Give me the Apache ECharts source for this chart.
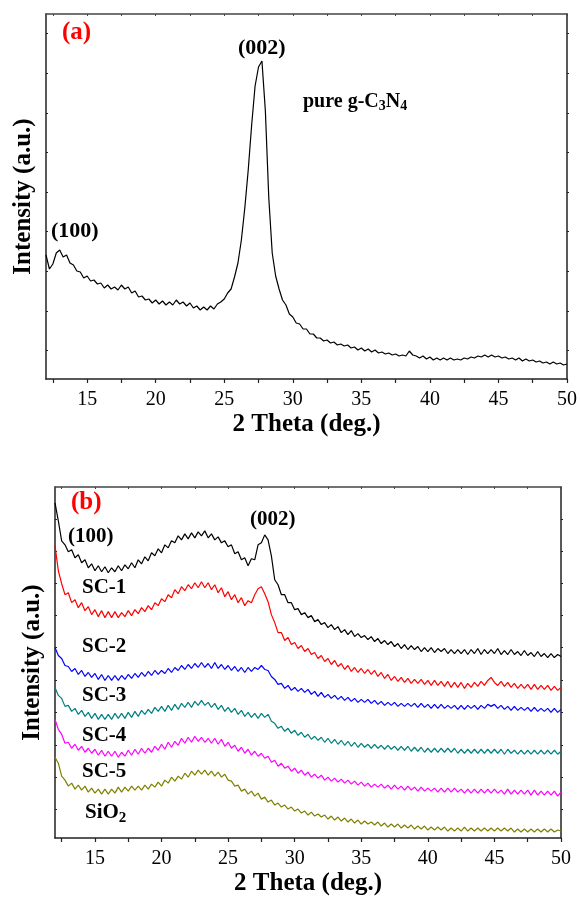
<!DOCTYPE html>
<html>
<head>
<meta charset="utf-8">
<script src="https://cdn.jsdelivr.net/npm/echarts@6/dist/echarts.min.js"></script>
<style>
html,body{margin:0;padding:0;background:#fff;}
#chart{width:580px;height:897px;}
</style>
</head>
<body>
<div id="chart"></div>
<script>
// 2 Theta sampling grid (deg.): 12.00 to 50.00 in 0.25 steps
const thetaStart = 12, thetaStep = 0.25, thetaCount = 153;

// x-axis tick labels / tick positions
const xTickLabels = [15, 20, 25, 30, 35, 40, 45, 50];
const xTicks = [12.5, 15, 17.5, 20, 22.5, 25, 27.5, 30, 32.5, 35, 37.5, 40, 42.5, 45, 47.5, 50];
const yTicksA = [29, 68, 108, 148, 187, 227, 266, 306, 346];
const yTicksB = [29, 61, 93, 126, 158, 191, 223, 255, 288, 320];

// (a) pure g-C3N4 (a.u.)
const pureCN = [124,110,115,126,129,122,124,116,114,108,107,101,103,98,99,95,96,91,94,90,92,89,94,90,92,86,88,82,83,79,80,76,79,75,78,74,77,74,79,75,77,73,76,71,73,69,72,69,73,70,75,77,80,86,90,102,116,139,171,209,254,293,312,318,268,181,126,103,90,79,74,65,62,56,55,50,50,45,45,41,41,38,39,36,37,34,35,33,34,31,32,29,31,28,30,27,29,26,27,25,26,24,25,23,24,23,28,24,23,21,23,20,22,19,21,19,21,19,21,19,20,19,21,20,22,21,23,22,24,22,24,22,23,21,22,20,21,19,21,18,20,18,19,17,18,16,17,15,17,15,16,14,15];

// (b) samples (a.u., stacked as plotted)
const gCN = [336,318,298,294,287,289,281,284,276,279,271,275,268,273,267,272,266,271,267,273,268,274,270,276,271,279,275,282,278,286,283,290,286,294,291,298,296,303,299,305,300,306,301,307,303,308,301,305,299,302,296,298,292,294,285,287,279,281,273,280,279,294,296,304,299,283,259,254,244,244,236,236,229,230,224,226,221,223,217,219,214,216,211,214,209,212,206,209,204,208,202,205,201,203,199,202,197,200,195,198,194,197,192,195,190,194,189,193,189,192,187,191,187,191,186,190,187,190,185,189,185,189,185,189,184,189,185,190,184,189,185,189,185,190,184,188,184,189,184,187,183,188,183,186,182,187,182,185,181,185,181,184,182];
const sc1 = [293,268,255,244,246,236,239,231,236,228,232,224,229,222,228,221,227,221,227,221,226,222,228,223,229,225,231,227,233,229,236,233,240,237,244,241,249,245,252,248,254,250,256,251,257,251,256,249,254,246,251,242,247,239,244,236,241,233,238,236,244,250,252,245,237,224,216,206,206,198,201,194,196,190,193,187,190,184,186,180,183,177,180,174,178,172,175,169,173,167,171,166,170,165,169,164,168,162,166,160,164,158,162,157,161,156,160,155,159,155,159,154,158,153,158,153,157,152,157,151,156,151,156,150,155,151,156,152,157,153,158,161,156,153,157,152,156,151,155,150,154,150,154,149,154,149,153,149,153,148,152,148,151];
const sc2 = [191,183,180,173,172,167,170,164,168,162,166,161,165,159,164,158,163,158,163,158,163,159,164,160,165,161,166,162,167,163,168,164,168,165,170,166,171,168,173,169,174,170,175,171,176,171,175,170,176,170,174,169,173,168,172,167,171,166,171,167,171,169,173,169,168,162,159,154,155,150,153,148,151,147,150,146,149,144,147,142,146,141,144,140,143,139,142,138,141,137,140,136,139,136,139,135,138,134,137,133,136,133,136,132,135,132,135,132,135,131,135,131,134,130,134,130,134,130,133,130,133,129,133,129,133,130,133,129,133,130,134,132,134,130,133,129,132,128,132,128,131,128,131,127,131,127,130,127,130,126,130,126,129];
const sc3 = [151,143,140,132,133,127,130,124,128,122,126,120,125,119,124,119,124,119,125,120,125,120,126,121,127,122,128,124,129,125,131,127,132,127,133,128,134,129,135,131,136,131,137,133,138,133,136,131,135,129,133,127,131,126,130,124,128,122,126,121,125,120,125,121,124,117,115,110,112,107,110,105,108,103,106,101,104,99,102,98,101,96,100,95,99,94,98,93,97,92,96,91,95,91,94,90,94,90,93,89,93,89,92,88,92,88,92,87,91,87,91,86,90,86,90,86,90,86,90,86,90,85,89,85,89,85,89,85,89,85,89,85,89,85,89,84,89,85,88,84,88,84,88,84,88,84,88,84,88,84,88,84,87];
const sc4 = [119,109,104,95,96,90,94,88,92,86,90,85,89,83,88,82,87,82,87,81,86,82,88,83,89,84,90,85,90,86,92,88,94,89,96,91,97,93,100,95,101,96,102,97,101,96,100,95,100,94,99,92,96,90,93,87,91,85,89,83,87,82,85,80,82,76,78,72,75,70,72,67,70,65,68,63,66,61,64,60,63,58,61,57,60,56,59,55,58,54,57,53,56,52,55,51,54,51,54,50,53,49,53,49,52,48,52,48,51,47,51,47,50,47,50,46,50,46,50,46,50,46,49,45,49,45,49,45,49,45,49,45,49,45,48,44,49,44,48,44,48,44,48,43,48,43,47,43,47,43,47,42,46];
const sc5 = [81,75,62,58,52,55,49,53,48,52,46,50,45,49,44,49,44,49,45,51,46,51,47,52,48,52,48,53,49,54,51,56,52,58,55,61,57,62,59,65,61,67,63,68,64,68,63,67,62,66,61,64,58,57,52,53,47,49,44,47,42,45,39,41,36,38,33,35,31,33,29,31,27,29,25,27,23,26,22,24,21,23,19,22,18,21,17,20,16,19,15,18,14,17,14,16,13,16,12,15,11,14,11,14,10,13,10,13,9,12,9,12,8,11,8,11,8,11,7,10,7,10,7,11,7,10,7,10,7,10,7,10,7,10,7,10,7,10,6,9,6,9,6,9,6,9,6,9,6,9,6,8,7];

const seriesB = [
  {name: 'g-C3N4', data: gCN, color: '#000000'},
  {name: 'SC-1', data: sc1, color: '#ff0000'},
  {name: 'SC-2', data: sc2, color: '#0000ff'},
  {name: 'SC-3', data: sc3, color: '#008080'},
  {name: 'SC-4', data: sc4, color: '#ff00ff'},
  {name: 'SiO2', data: sc5, color: '#808000'}
];

const theta = Array.from({length: thetaCount}, (_, i) => thetaStart + i * thetaStep);
const pairs = arr => theta.map((t, i) => [t, arr[i]]);

const serif = '"Liberation Serif", "DejaVu Serif", serif';
const axisColor = '#222';

function bottomX(gridIndex) {
  return {
    type: 'value', gridIndex, min: 12, max: 50, position: 'bottom',
    name: '2 Theta (deg.)', nameLocation: 'middle', nameGap: 33,
    nameTextStyle: {fontFamily: serif, fontWeight: 'bold', fontSize: 25, color: '#000'},
    axisLine: {show: true, onZero: false, lineStyle: {color: axisColor, width: 1.5}},
    axisTick: {show: true, inside: false, length: 4, customValues: xTicks, lineStyle: {color: axisColor, width: 1.2}},
    axisLabel: {show: true, customValues: xTickLabels, margin: 11, fontFamily: serif, fontSize: 20, color: '#000'},
    splitLine: {show: false}
  };
}
function topX(gridIndex) {
  return {
    type: 'value', gridIndex, min: 12, max: 50, position: 'top',
    axisLine: {show: true, onZero: false, lineStyle: {color: '#444', width: 1.5}},
    axisTick: {show: true, inside: true, length: 2, customValues: xTicks, lineStyle: {color: '#444'}},
    axisLabel: {show: false}, splitLine: {show: false}
  };
}
function leftY(gridIndex, max, ticks) {
  return {
    type: 'value', gridIndex, min: 0, max, position: 'left',
    name: 'Intensity (a.u.)', nameLocation: 'middle', nameGap: 10,
    nameTextStyle: {fontFamily: serif, fontWeight: 'bold', fontSize: 25, color: '#000'},
    axisLine: {show: true, onZero: false, lineStyle: {color: axisColor, width: 1.5}},
    axisTick: {show: true, inside: true, length: 2, customValues: ticks, lineStyle: {color: axisColor}},
    axisLabel: {show: false}, splitLine: {show: false}
  };
}
function rightY(gridIndex, max, ticks) {
  return {
    type: 'value', gridIndex, min: 0, max, position: 'right',
    axisLine: {show: true, onZero: false, lineStyle: {color: axisColor, width: 1.5}},
    axisTick: {show: true, inside: false, length: 2, customValues: ticks, lineStyle: {color: axisColor}},
    axisLabel: {show: false}, splitLine: {show: false}
  };
}

const series = [{
  type: 'line', xAxisIndex: 0, yAxisIndex: 0, data: pairs(pureCN),
  showSymbol: false, symbol: 'none', lineStyle: {color: '#000', width: 1.2}, silent: true
}];
seriesB.forEach(s => series.push({
  type: 'line', name: s.name, xAxisIndex: 2, yAxisIndex: 2, data: pairs(s.data),
  showSymbol: false, symbol: 'none', lineStyle: {color: s.color, width: 1.2}, silent: true
}));

function txt(x, y, text, size, color, extra) {
  return Object.assign({
    type: 'text', x, y,
    style: {text, font: 'bold ' + size + 'px ' + serif, fill: color || '#000', textVerticalAlign: 'middle', textAlign: 'left'}
  }, extra || {});
}
function subTxt(x, y, parts, size) {
  return {
    type: 'text', x, y,
    style: {
      text: parts, textVerticalAlign: 'middle', textAlign: 'left',
      rich: {
        m: {fontFamily: serif, fontWeight: 'bold', fontSize: size, fill: '#000'},
        s: {fontFamily: serif, fontWeight: 'bold', fontSize: Math.round(size * 0.7), fill: '#000', padding: [size * 0.45, 0, 0, 0]}
      }
    }
  };
}

const option = {
  animation: false,
  backgroundColor: '#fff',
  grid: [
    {left: 46, top: 14, width: 522, height: 365},
    {left: 55, top: 487, width: 506, height: 352}
  ],
  xAxis: [bottomX(0), topX(0), bottomX(1), topX(1)],
  yAxis: [leftY(0, 365, yTicksA), rightY(0, 365, yTicksA), leftY(1, 352, yTicksB), rightY(1, 352, yTicksB)],
  series,
  graphic: [
    txt(62, 33, '(a)', 25, '#ff0000'),
    txt(238, 48, '(002)', 22),
    subTxt(303, 102, '{m|pure g-C}{s|3}{m|N}{s|4}', 20),
    txt(51, 231, '(100)', 22),
    txt(71, 503, '(b)', 25, '#ff0000'),
    txt(68, 537, '(100)', 21),
    txt(250, 520, '(002)', 21),
    txt(82, 588, 'SC-1', 21),
    txt(82, 647, 'SC-2', 21),
    txt(82, 696, 'SC-3', 21),
    txt(82, 736, 'SC-4', 21),
    txt(82, 772, 'SC-5', 21),
    subTxt(85, 813, '{m|SiO}{s|2}', 21)
  ]
};

const chart = echarts.init(document.getElementById('chart'), null, {renderer: 'canvas'});
chart.setOption(option);
</script>
</body>
</html>
